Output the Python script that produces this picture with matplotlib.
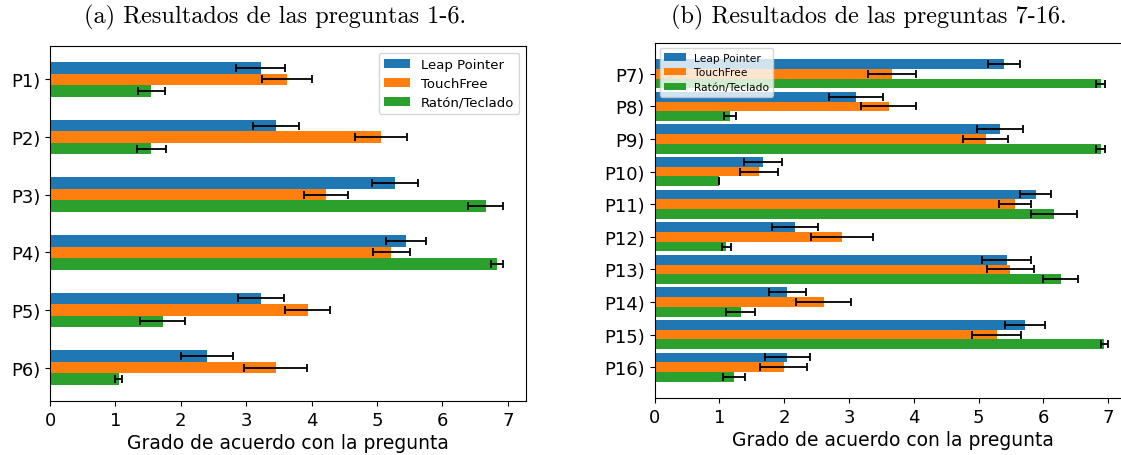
import numpy as np
import matplotlib
matplotlib.use("Agg")
import matplotlib.pyplot as plt

# Series labels and colours
series = ["Leap Pointer", "TouchFree", "Ratón/Teclado"]
colors = ["#1f77b4", "#ff7f0e", "#2ca02c"]

# Questions 1-6
labels_a = ["P1)", "P2)", "P3)", "P4)", "P5)", "P6)"]
leap_a = [3.22, 3.45, 5.27, 5.44, 3.22, 2.40]
leap_a_err = [0.37, 0.35, 0.35, 0.31, 0.35, 0.39]
touch_a = [3.62, 5.06, 4.22, 5.22, 3.94, 3.45]
touch_a_err = [0.38, 0.40, 0.33, 0.28, 0.34, 0.48]
mouse_a = [1.55, 1.55, 6.66, 6.83, 1.72, 1.05]
mouse_a_err = [0.21, 0.22, 0.27, 0.09, 0.35, 0.05]

# Questions 7-16
labels_b = ["P7)", "P8)", "P9)", "P10)", "P11)", "P12)", "P13)", "P14)", "P15)", "P16)"]
leap_b = [5.39, 3.11, 5.33, 1.67, 5.88, 2.17, 5.43, 2.05, 5.72, 2.05]
leap_b_err = [0.25, 0.42, 0.35, 0.29, 0.24, 0.355, 0.385, 0.29, 0.31, 0.345]
touch_b = [3.66, 3.61, 5.11, 1.61, 5.56, 2.89, 5.49, 2.61, 5.28, 1.99]
touch_b_err = [0.37, 0.42, 0.35, 0.29, 0.25, 0.475, 0.36, 0.42, 0.375, 0.37]
mouse_b = [6.88, 1.16, 6.88, 1.00, 6.16, 1.11, 6.27, 1.33, 6.94, 1.22]
mouse_b_err = [0.07, 0.09, 0.07, 0.0, 0.355, 0.07, 0.27, 0.22, 0.06, 0.17]

xlabel = "Grado de acuerdo con la pregunta"
caption_a = "(a) Resultados de las preguntas 1-6."
caption_b = "(b) Resultados de las preguntas 7-16."

W, H = 1121, 456
fig = plt.figure(figsize=(W / 100, H / 100), dpi=100)

err_kw = dict(ecolor="black", elinewidth=1.3, capsize=3, capthick=1.3)


def grouped(ax, labels, vals, errs, h, legend_kw):
    y = np.arange(len(labels))
    offsets = [-h, 0, h]
    for v, e, c, name, off in zip(vals, errs, colors, series, offsets):
        ax.barh(y + off, v, height=h, color=c, xerr=e, error_kw=err_kw, label=name)
    ax.set_yticks(y)
    ax.set_yticklabels(labels)
    ax.invert_yaxis()
    ax.set_xticks(range(8))
    ax.tick_params(labelsize=13)
    ax.set_xlabel(xlabel, fontsize=13.5, labelpad=3)
    ax.legend(**legend_kw)


ax_a = fig.add_axes([50 / W, 1 - 402 / H, 476 / W, 355 / H])
grouped(ax_a, labels_a, [leap_a, touch_a, mouse_a],
        [leap_a_err, touch_a_err, mouse_a_err], 0.2,
        dict(loc="upper right", fontsize=9.5, labelspacing=0.45))

ax_b = fig.add_axes([654.5 / W, 1 - 399 / H, 476.5 / W, 355 / H])
grouped(ax_b, labels_b, [leap_b, touch_b, mouse_b],
        [leap_b_err, touch_b_err, mouse_b_err], 0.3,
        dict(loc="upper left", fontsize=7.7, borderaxespad=0.5,
             labelspacing=0.45))

fig.text(275 / W, 1 - 17 / H, caption_a, ha="center", va="center",
         fontfamily="cmr10", fontsize=17.5)
fig.text(869 / W, 1 - 17 / H, caption_b, ha="center", va="center",
         fontfamily="cmr10", fontsize=17.5)

fig.savefig("out.png", dpi=100)
